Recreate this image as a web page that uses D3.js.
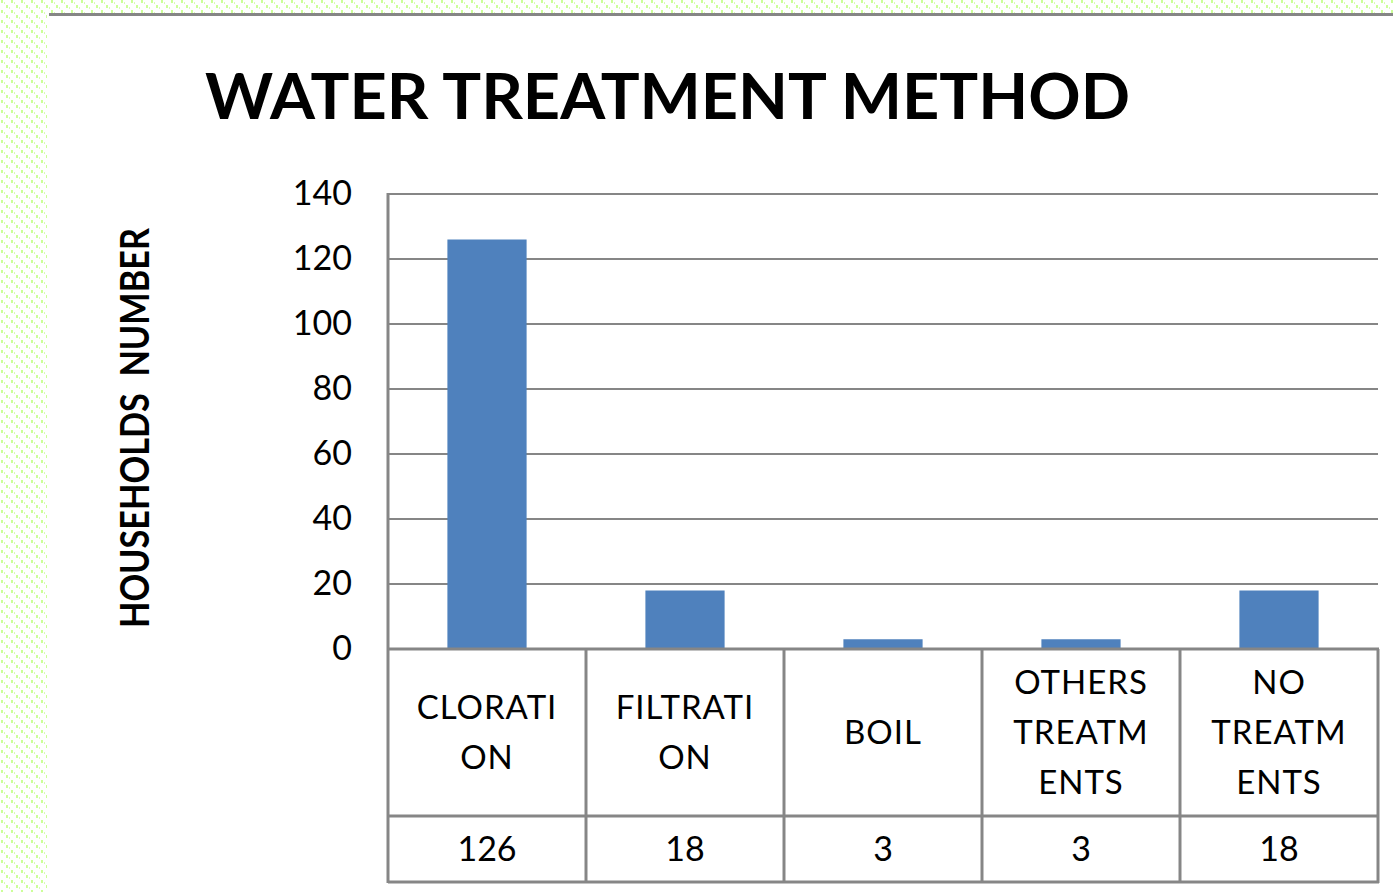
<!DOCTYPE html>
<html>
<head>
<meta charset="utf-8">
<script src="https://cdn.jsdelivr.net/npm/d3@7"></script>
<style>
  html, body { margin: 0; padding: 0; background: #ffffff; }
  svg { display: block; }
  text { font-family: "Lato", "Liberation Sans", sans-serif; fill: #000; }
</style>
</head>
<body>
<svg id="chart" width="1393" height="892"></svg>
<script>
// Households by water treatment method
const categories = ["CLORATION", "FILTRATION", "BOIL", "OTHERS TREATMENTS", "NO TREATMENTS"];
const categoryLines = [["CLORATI", "ON"], ["FILTRATI", "ON"], ["BOIL"], ["OTHERS", "TREATM", "ENTS"], ["NO", "TREATM", "ENTS"]];
const households = [126, 18, 3, 3, 18];
const yTicks = [0, 20, 40, 60, 80, 100, 120, 140];
const chartTitle = "WATER TREATMENT METHOD";
const yTitle = "HOUSEHOLDS  NUMBER";

const svg = d3.select("#chart");
const W = 1393, H = 892;
const gridColor = "#868686";
const barColor = "#4F81BD";

// Slide background: dotted green margin on the left and top
const defs = svg.append("defs");
const pat = defs.append("pattern")
  .attr("id", "dots").attr("patternUnits", "userSpaceOnUse")
  .attr("width", 10).attr("height", 10);
pat.append("rect").attr("width", 10).attr("height", 10).attr("fill", "#ffffff");
[[1, 0], [6, 5]].forEach(([x, y]) => {
  pat.append("rect").attr("x", x).attr("y", y).attr("width", 2).attr("height", 3).attr("fill", "#ccff99");
});
[[4, 2], [9, 7]].forEach(([x, y]) => {
  pat.append("rect").attr("x", x).attr("y", y).attr("width", 1).attr("height", 2).attr("fill", "#d9ffb3");
});
svg.append("rect").attr("width", W).attr("height", H).attr("fill", "#ffffff");
svg.append("rect").attr("x", 0).attr("y", 0).attr("width", 47).attr("height", H).attr("fill", "url(#dots)");
svg.append("rect").attr("x", 0).attr("y", 0).attr("width", W).attr("height", 13).attr("fill", "url(#dots)");
svg.append("rect").attr("x", 49).attr("y", 13).attr("width", W - 49).attr("height", 3).attr("fill", gridColor);

// Plot geometry
const plot = { left: 388, right: 1378, top: 194, bottom: 649 };
const table = { labelBottom: 816, bottom: 882 };

const x = d3.scaleBand().domain(categories).range([plot.left, plot.right]).paddingInner(0).paddingOuter(0);
const y = d3.scaleLinear().domain([0, 140]).range([plot.bottom, plot.top]);

// Title
svg.append("text")
  .attr("x", 205).attr("y", 119)
  .attr("font-size", 64).attr("font-weight", 700)
  .attr("textLength", 925).attr("lengthAdjust", "spacingAndGlyphs")
  .text(chartTitle);

// Y axis title (keeps its double space)
svg.append("text")
  .attr("transform", "translate(149,428) rotate(-90)")
  .attr("text-anchor", "middle")
  .attr("font-size", 40).attr("font-weight", 700)
  .attr("textLength", 400).attr("lengthAdjust", "spacingAndGlyphs")
  .attr("xml:space", "preserve")
  .style("white-space", "pre")
  .text(yTitle);

// Gridlines
svg.append("g").selectAll("line").data(yTicks.filter(d => d > 0)).join("line")
  .attr("x1", plot.left).attr("x2", plot.right)
  .attr("y1", d => y(d)).attr("y2", d => y(d))
  .attr("stroke", gridColor).attr("stroke-width", 2);

// Y tick labels via d3 axis
const yAxis = d3.axisLeft(y).tickValues(yTicks).tickSize(0).tickPadding(0).tickFormat(d3.format("d"));
const yg = svg.append("g").attr("transform", `translate(352,0)`).call(yAxis);
yg.select(".domain").remove();
yg.selectAll("text")
  .attr("font-family", "Lato, 'Liberation Sans', sans-serif")
  .attr("font-size", 34).attr("fill", "#000");

// Bars
const barW = x.bandwidth() * 0.4;
svg.append("g").selectAll("rect").data(categories).join("rect")
  .attr("x", d => x(d) + (x.bandwidth() - barW) / 2)
  .attr("width", barW)
  .attr("y", (d, i) => y(households[i]))
  .attr("height", (d, i) => y(0) - y(households[i]))
  .attr("fill", barColor);

// Data table under the axis
const tg = svg.append("g").attr("stroke", gridColor).attr("stroke-width", 3);
[plot.bottom, table.labelBottom, table.bottom].forEach(yy => {
  tg.append("line").attr("x1", plot.left).attr("x2", plot.right + 1).attr("y1", yy).attr("y2", yy);
});
tg.append("line").attr("x1", plot.left).attr("x2", plot.left).attr("y1", plot.top - 1).attr("y2", table.bottom + 1);
categories.forEach(c => {
  tg.append("line").attr("x1", x(c) + x.bandwidth()).attr("x2", x(c) + x.bandwidth())
    .attr("y1", plot.bottom).attr("y2", table.bottom + 1);
});

// Category labels (wrapped)
const lineGap = 50;
const labelMid = (plot.bottom + table.labelBottom) / 2;
categories.forEach((c, i) => {
  const lines = categoryLines[i];
  const start = labelMid - (lines.length - 1) * lineGap / 2;
  svg.append("g").selectAll("text").data(lines).join("text")
    .attr("x", x(c) + x.bandwidth() / 2)
    .attr("y", (d, j) => start + j * lineGap)
    .attr("dy", "0.36em")
    .attr("text-anchor", "middle")
    .attr("font-size", 33)
    .attr("letter-spacing", 1)
    .text(d => d);
});

// Value row
svg.append("g").selectAll("text").data(categories).join("text")
  .attr("x", d => x(d) + x.bandwidth() / 2)
  .attr("y", (table.labelBottom + table.bottom) / 2)
  .attr("dy", "0.36em")
  .attr("text-anchor", "middle")
  .attr("font-size", 34)
  .text((d, i) => households[i]);
</script>
</body>
</html>
